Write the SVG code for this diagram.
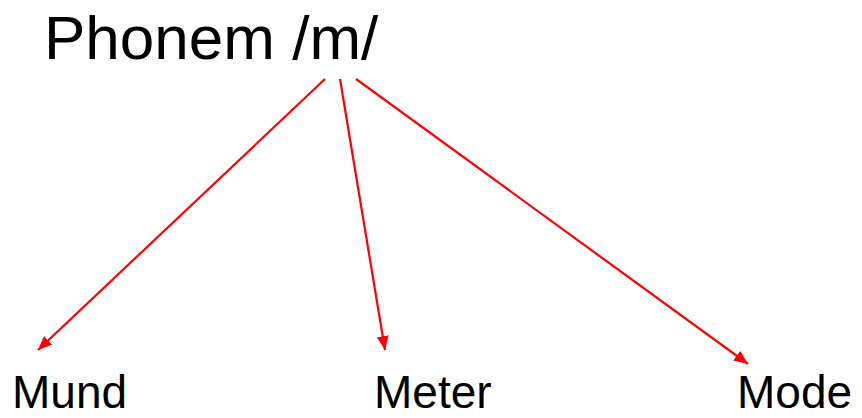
<svg xmlns="http://www.w3.org/2000/svg" width="862" height="418" viewBox="0 0 862 418">
<style>
text{font-family:"Liberation Sans",Arial,sans-serif;fill:#000}
.t{font-size:62px}
.l{font-size:46px}
.c{stroke:#ff0000;stroke-width:2.2;fill:none}
</style>
<defs>
<marker id="ah" viewBox="0 0 14 12" refX="14" refY="6" markerWidth="14" markerHeight="12" markerUnits="userSpaceOnUse" orient="auto">
<path d="M0,0 L14,6 L0,12 z" fill="#ff0000"/>
</marker>
</defs>
<rect width="862" height="418" fill="#fff"/>
<g id="phonem"><text class="t" x="44" y="59">Phonem /m/</text></g>
<g id="mund"><text class="l" x="12" y="408">Mund</text></g>
<g id="meter"><text class="l" x="374" y="408">Meter</text></g>
<g id="mode"><text class="l" x="737" y="408">Mode</text></g>
<g id="connectors">
<line class="c" x1="325" y1="79" x2="38" y2="350" marker-end="url(#ah)"/>
<line class="c" x1="340" y1="79" x2="385" y2="350" marker-end="url(#ah)"/>
<line class="c" x1="356" y1="79" x2="748" y2="364" marker-end="url(#ah)"/>
</g>
</svg>
